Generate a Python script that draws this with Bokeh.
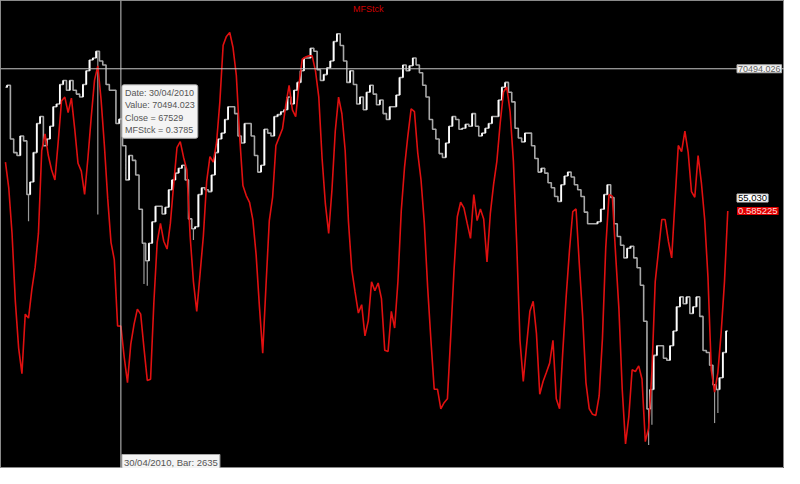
from bokeh.plotting import figure
from bokeh.models import Range1d, Label, Span
from bokeh.embed import file_html
from bokeh.resources import INLINE

# ---------------- data ----------------
first_bar = 2600
close = [69400, 69520, 66350, 65550, 65380, 66530, 66240, 63080, 63820, 65550,
         67270, 67680, 65950, 66350, 67100, 68250, 68420, 69570, 69800, 69230,
         69800, 69230, 69000, 68830, 69570, 70380, 71010, 71130, 71530, 70950,
         70720, 69570, 69230, 69230, 67270, 67529, 65950, 63940, 65380, 65090,
         64230, 62210, 60200, 59170, 60200, 61470, 62390, 62390, 61930, 62330,
         63360, 63940, 64340, 64630, 64800, 63940, 61640, 61060, 61180, 63080,
         63480, 63360, 63250, 64230, 65550, 66350, 66700, 67500, 68250, 68250,
         67850, 66530, 66120, 67270, 67270, 66530, 65380, 64400, 64800, 66930,
         66700, 66530, 67680, 67790, 67960, 68080, 68830, 68420, 69230, 69690,
         70380, 71130, 71130, 71700, 71530, 70440, 69800, 70150, 70550, 70950,
         72100, 72560, 71870, 70950, 69690, 70380, 69570, 68420, 68830, 68080,
         69110, 69520, 69000, 68370, 68650, 67850, 67500, 68250, 68250, 68940,
         69980, 70720, 70380, 70670, 71130, 70720, 70260, 69520, 68830, 67500,
         66930, 66350, 65490, 65260, 66120, 67100, 67680, 67500, 66930, 66990,
         67220, 67100, 67850, 67100, 66530, 66700, 66990, 67270, 67680, 67680,
         68650, 69400, 69690, 69110, 68540, 66990, 66410, 66180, 66700, 66700,
         65950, 65200, 64400, 64630, 64340, 63770, 63480, 62960, 62670, 63650,
         64170, 64400, 64110, 63650, 63360, 62960, 62040, 61350, 61350, 61350,
         61470, 62210, 63080, 63650, 62900, 61350, 60600, 60090, 59340, 59910,
         60030, 59340, 58760, 57730, 55600, 50430, 51580, 53590, 54160, 54160,
         53420, 53300, 54160, 55030, 56460, 57040, 56640, 57040, 56060, 56460,
         57040, 55890, 53880, 53760, 53010, 51860, 51580, 52270, 53760, 55030]

# extreme intraday lows (wicks): bar -> low
wick_bars = [2607, 2628, 2642, 2643, 2657, 2795, 2796, 2815, 2816]
wick_lows = [61500, 61900, 57800, 57700, 60400, 48300, 49500, 49600, 50200]

mfstck = [0.673, 0.627, 0.545, 0.423, 0.339, 0.293, 0.400, 0.393, 0.444, 0.484,
          0.545, 0.694, 0.724, 0.685, 0.659, 0.641, 0.710, 0.783, 0.790, 0.762,
          0.788, 0.733, 0.671, 0.657, 0.615, 0.680, 0.753, 0.820, 0.846, 0.785,
          0.703, 0.608, 0.529, 0.498, 0.379, 0.3785, 0.323, 0.277, 0.346, 0.382,
          0.409, 0.400, 0.339, 0.281, 0.283, 0.421, 0.529, 0.563, 0.531, 0.517,
          0.563, 0.633, 0.699, 0.710, 0.682, 0.659, 0.540, 0.458, 0.405, 0.472,
          0.540, 0.638, 0.683, 0.673, 0.708, 0.781, 0.883, 0.899, 0.906, 0.879,
          0.829, 0.720, 0.631, 0.613, 0.601, 0.570, 0.507, 0.414, 0.330, 0.452,
          0.568, 0.610, 0.703, 0.718, 0.733, 0.776, 0.811, 0.767, 0.755, 0.813,
          0.858, 0.862, 0.864, 0.864, 0.837, 0.790, 0.680, 0.598, 0.545, 0.624,
          0.729, 0.790, 0.760, 0.694, 0.566, 0.480, 0.440, 0.402, 0.417, 0.361,
          0.388, 0.458, 0.442, 0.456, 0.428, 0.335, 0.333, 0.405, 0.375, 0.459,
          0.585, 0.664, 0.720, 0.769, 0.764, 0.690, 0.641, 0.563, 0.449, 0.353,
          0.265, 0.265, 0.230, 0.241, 0.248, 0.360, 0.479, 0.575, 0.601, 0.591,
          0.563, 0.536, 0.615, 0.568, 0.589, 0.571, 0.494, 0.580, 0.633, 0.675,
          0.743, 0.799, 0.808, 0.764, 0.675, 0.528, 0.353, 0.279, 0.344, 0.405,
          0.423, 0.365, 0.256, 0.279, 0.295, 0.312, 0.353, 0.248, 0.230, 0.335,
          0.431, 0.514, 0.584, 0.589, 0.489, 0.396, 0.277, 0.230, 0.220, 0.218,
          0.253, 0.356, 0.519, 0.615, 0.612, 0.507, 0.409, 0.265, 0.167, 0.216,
          0.300, 0.297, 0.307, 0.283, 0.171, 0.195, 0.297, 0.458, 0.514, 0.570,
          0.570, 0.531, 0.501, 0.603, 0.703, 0.692, 0.729, 0.690, 0.620, 0.610,
          0.685, 0.636, 0.570, 0.466, 0.300, 0.260, 0.295, 0.367, 0.458, 0.585225]

bars = list(range(first_bar, first_bar + len(close)))

cursor_bar = 2635
cursor_date = "30/04/2010"
cursor_value = 70494.026
cursor_value_tip = "70494.023"
cursor_close = 67529
cursor_mf = 0.3785
last_close_text = "55,030"
last_mf_text = "0.585225"

price_lo, price_hi = 46920, 74520
osc_lo, osc_hi = 0.1227, 0.9635
bar_lo, bar_hi = first_bar - 1.5, first_bar + 236.2
label_bar = first_bar + 221.5

FONT = "Liberation Sans"

# ---------------- figure ----------------
p = figure(width=784, height=468, output_backend="svg", toolbar_location=None,
           x_range=Range1d(bar_lo, bar_hi),
           y_range=Range1d(price_lo, price_hi),
           x_axis_location=None, y_axis_location=None,
           background_fill_color="black", border_fill_color="black",
           min_border_left=0, min_border_right=0, min_border_top=0, min_border_bottom=0)
p.grid.visible = False
p.outline_line_color = "#8a8a8a"
p.extra_y_ranges = {"osc": Range1d(osc_lo, osc_hi)}

# price bars (stepped, white for up moves / grey for down moves)
p.step(bars, close, mode="center", line_color="#a8a8a8", line_width=1.6)
up_x, up_y0, up_y1 = [], [], []
for i in range(1, len(close)):
    if close[i] >= close[i - 1]:
        up_x.append(bars[i] - 0.5)
        up_y0.append(close[i - 1])
        up_y1.append(close[i])
p.segment(x0=up_x, x1=up_x, y0=up_y0, y1=up_y1, line_color="white", line_width=1.8)
wick_top = [close[b - first_bar] for b in wick_bars]
p.segment(x0=wick_bars, x1=wick_bars, y0=wick_lows, y1=wick_top,
          line_color="#9a9a9a", line_width=1.2)

# oscillator
p.line(bars, mfstck, y_range_name="osc", line_color="#e01010", line_width=1.6)

# crosshair
p.add_layout(Span(location=cursor_bar, dimension="height", line_color="#c8c8c8", line_width=1))
p.add_layout(Span(location=cursor_value, dimension="width", line_color="#c8c8c8", line_width=1))

# title
p.add_layout(Label(x=2710, y=price_hi, text="MFStck", text_align="center", text_baseline="top",
                   y_offset=-3, text_color="#d00000", text_font=FONT, text_font_size="9px"))

# tooltip
tip = (f"Date: {cursor_date}\nValue: {cursor_value_tip}\n"
       f"Close = {cursor_close}\nMFStck = {cursor_mf}")
p.add_layout(Label(x=cursor_bar, y=cursor_value, text=tip, text_align="left", text_baseline="top",
                   x_offset=1, y_offset=-16, text_color="#555555", text_font=FONT,
                   text_font_size="9px", text_line_height=1.25,
                   background_fill_color="#f4f4f4", border_line_color="#a8a8a8",
                   padding=3, border_radius=2))

# bottom date label
p.add_layout(Label(x=cursor_bar, y=price_lo, text=f"{cursor_date}, Bar: {cursor_bar}",
                   text_align="left", text_baseline="bottom", x_offset=1, y_offset=-1,
                   text_color="#555555", text_font=FONT, text_font_size="9.5px",
                   background_fill_color="#f4f4f4", border_line_color="#a8a8a8", padding=2))

# right-hand value labels
p.add_layout(Label(x=label_bar, y=cursor_value, text=f"{cursor_value:.3f}", text_align="left",
                   text_baseline="middle", x_offset=1, text_color="#606060", text_font=FONT,
                   text_font_size="9px", background_fill_color="#f4f4f4",
                   border_line_color="#b0b0b0", padding=1))
p.add_layout(Label(x=label_bar, y=mfstck[-1], y_range_name="osc", text=last_close_text,
                   text_align="left", text_baseline="middle", x_offset=1, y_offset=13,
                   text_color="black", text_font=FONT, text_font_size="9.5px",
                   background_fill_color="white", border_line_color="#c0c0c0", padding=1))
p.add_layout(Label(x=label_bar, y=mfstck[-1], y_range_name="osc", text=last_mf_text,
                   text_align="left", text_baseline="middle", x_offset=1,
                   text_color="#ffd8d8", text_font=FONT, text_font_size="9.5px",
                   background_fill_color="#e00000", padding=1))

open("out.html", "w").write(file_html(p, INLINE))
